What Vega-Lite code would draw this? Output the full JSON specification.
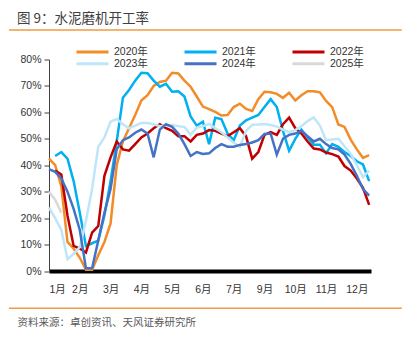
{
  "$schema": "https://vega.github.io/schema/vega-lite/v6.json",
  "width": 322,
  "height": 211.5,
  "autosize": {"type": "none"},
  "padding": {"left": 49, "top": 59.5, "right": 38, "bottom": 72},
  "background": "white",
  "config": {
    "font": "Liberation Sans, Noto Sans CJK SC",
    "view": {"stroke": null}
  },
  "title": {"text": "图 9：水泥磨机开工率", "anchor": "start", "frame": "group", "dx": -32, "offset": 4, "fontSize": 13.5, "fontWeight": "normal", "color": "#404040", "font": "Noto Sans CJK SC"},
  "data": {"values": [
    {"w": 2, "2020年": 40, "2021年": 43.5, "2022年": 38, "2023年": 20, "2024年": 37.5, "2025年": 27},
    {"w": 1, "2020年": 42.5, "2021年": null, "2022年": null, "2023年": 24, "2024年": 38.5, "2025年": 30},
    {"w": 3, "2020年": 32, "2021年": 45, "2022年": 36.5, "2023年": 15.5, "2024年": 35, "2025年": 22},
    {"w": 4, "2020年": 11, "2021年": 42.5, "2022年": 21, "2023年": 4.5, "2024年": 30},
    {"w": 5, "2020年": 8.5, "2021年": 34, "2022年": 9.5, "2023年": 6.5, "2024年": 23.5},
    {"w": 6, "2020年": 5, "2021年": 22, "2022年": 8.5, "2023年": 9, "2024年": 15.5},
    {"w": 7, "2020年": 0.5, "2021年": 9.5, "2022年": 7, "2023年": 19, "2024年": 1},
    {"w": 8, "2020年": 0.5, "2021年": 10.5, "2022年": 14.5, "2023年": 31, "2024年": 1},
    {"w": 9, "2020年": 6, "2021年": 11.5, "2022年": 17, "2023年": 47, "2024年": 11.5},
    {"w": 10, "2020年": 11, "2021年": 21, "2022年": 36, "2023年": 50.5, "2024年": 22},
    {"w": 11, "2020年": 18, "2021年": 34, "2022年": 43, "2023年": 56.5, "2024年": 31},
    {"w": 12, "2020年": 40, "2021年": 49, "2022年": 49, "2023年": 57.5, "2024年": 46},
    {"w": 13, "2020年": 49, "2021年": 65.5, "2022年": 46, "2023年": 55.5, "2024年": 49.5},
    {"w": 14, "2020年": 54, "2021年": 68.5, "2022年": 45.5, "2023年": 54, "2024年": 50.5},
    {"w": 15, "2020年": 59, "2021年": 72, "2022年": 48, "2023年": 55, "2024年": 52.3},
    {"w": 16, "2020年": 64.5, "2021年": 75, "2022年": 50.5, "2023年": 56, "2024年": 53.5},
    {"w": 17, "2020年": 66.5, "2021年": 74.8, "2022年": 52, "2023年": 56, "2024年": 52},
    {"w": 18, "2020年": 70, "2021年": 72, "2022年": 54, "2023年": 55.5, "2024年": 43},
    {"w": 19, "2020年": 71.5, "2021年": 69.7, "2022年": 55.5, "2023年": 54.8, "2024年": 53.5},
    {"w": 20, "2020年": 72, "2021年": 70.8, "2022年": 54, "2023年": 55, "2024年": 55.5},
    {"w": 21, "2020年": 75, "2021年": 67.8, "2022年": 53, "2023年": 55.2, "2024年": 54.5},
    {"w": 22, "2020年": 74.7, "2021年": 68, "2022年": 51, "2023年": 54.8, "2024年": 52},
    {"w": 23, "2020年": 72, "2021年": 66, "2022年": 51, "2023年": 54.5, "2024年": 48},
    {"w": 24, "2020年": 69.7, "2021年": 58.5, "2022年": 49, "2023年": 51.5, "2024年": 43.5},
    {"w": 25, "2020年": 66, "2021年": 55, "2022年": 51.5, "2023年": 54.2, "2024年": 45},
    {"w": 26, "2020年": 62.2, "2021年": 56.5, "2022年": 52, "2023年": 54.8, "2024年": 44.3},
    {"w": 27, "2020年": 61.2, "2021年": 48, "2022年": 53.3, "2023年": 55.6, "2024年": 44.5},
    {"w": 28, "2020年": 60.2, "2021年": 58, "2022年": 53, "2023年": 54, "2024年": 46.5},
    {"w": 29, "2020年": 58.8, "2021年": 57.5, "2022年": 52, "2023年": 52.5, "2024年": 48},
    {"w": 30, "2020年": 59, "2021年": 52, "2022年": 51, "2023年": 50.5, "2024年": 47},
    {"w": 31, "2020年": 62, "2021年": 49.5, "2022年": 52.5, "2023年": 48.5, "2024年": 47},
    {"w": 32, "2020年": 63.3, "2021年": 55, "2022年": 54, "2023年": 47, "2024年": 47.7},
    {"w": 33, "2020年": 61.3, "2021年": 57, "2022年": 51, "2023年": 53, "2024年": 48},
    {"w": 34, "2020年": 60.5, "2021年": 58, "2022年": 42.5, "2023年": 55.3, "2024年": 48.6},
    {"w": 35, "2020年": 65, "2021年": 59, "2022年": 45, "2023年": 55.4, "2024年": 49.5},
    {"w": 36, "2020年": 67.8, "2021年": 62, "2022年": 51.5, "2023年": 55.6, "2024年": 51.8},
    {"w": 37, "2020年": 67.6, "2021年": 65, "2022年": 52.5, "2023年": 55.2, "2024年": 52},
    {"w": 38, "2020年": 67, "2021年": 62, "2022年": 51.5, "2023年": 54.6, "2024年": 44},
    {"w": 39, "2020年": 65.5, "2021年": 53, "2022年": 55.5, "2023年": 53.5, "2024年": 50},
    {"w": 40, "2020年": 67.4, "2021年": 45.5, "2022年": 58, "2023年": 52.5, "2024年": 51.5},
    {"w": 41, "2020年": 64.5, "2021年": 50, "2022年": 54, "2023年": 53.3, "2024年": 52},
    {"w": 42, "2020年": 66.5, "2021年": 53.5, "2022年": 52, "2023年": 54.8, "2024年": 53},
    {"w": 43, "2020年": 68, "2021年": 50.5, "2022年": 49, "2023年": 56.7, "2024年": 51},
    {"w": 44, "2020年": 68, "2021年": 47.8, "2022年": 46.3, "2023年": 58.1, "2024年": 49},
    {"w": 45, "2020年": 67.6, "2021年": 47.8, "2022年": 46, "2023年": 55, "2024年": 50},
    {"w": 46, "2020年": 64.3, "2021年": 44.5, "2022年": 44.8, "2023年": 49.5, "2024年": 48},
    {"w": 47, "2020年": 62, "2021年": 48, "2022年": 44.2, "2023年": 49.7, "2024年": 46.5},
    {"w": 48, "2020年": 55.4, "2021年": 47, "2022年": 43.3, "2023年": 50, "2024年": 46},
    {"w": 49, "2020年": 54.5, "2021年": 45, "2022年": 39.7, "2023年": 47.2, "2024年": 44},
    {"w": 50, "2020年": 49.7, "2021年": 43.5, "2022年": 38, "2023年": 44.3, "2024年": 40.5},
    {"w": 51, "2020年": 46, "2021年": 41.5, "2022年": 35, "2023年": 40, "2024年": 36},
    {"w": 52, "2020年": 42.8, "2021年": 40.3, "2022年": 31.5, "2023年": 35.5, "2024年": 31},
    {"w": 53, "2020年": 43.8, "2021年": 34, "2022年": 25, "2023年": 38, "2024年": 28.5}
  ]},
  "transform": [
    {"fold": ["2020年", "2021年", "2022年", "2023年", "2024年", "2025年"], "as": ["year", "v"]},
    {"filter": "isValid(datum.v)"}
  ],
  "layer": [
    {
      "mark": {"type": "line", "strokeWidth": 2.5},
      "encoding": {
        "x": {
          "field": "w", "type": "quantitative",
          "scale": {"domain": [1, 53.3], "nice": false, "zero": false},
          "axis": {
            "values": [1, 6, 11, 16, 21, 26, 31, 36, 41, 46, 51],
            "tickCount": 60,
            "labelExpr": "['1月','2月','3月','4月','5月','6月','7月','9月','10月','11月','12月'][(datum.value-1)/5]",
            "labelOverlap": false,
            "ticks": false, "grid": false,
            "domainColor": "#000000", "domainWidth": 4,
            "labelPadding": 13, "labelFontSize": 10.5, "labelColor": "#333333",
            "title": "资料来源：卓创资讯、天风证券研究所",
            "titleX": -32, "titleY": 51, "titleAlign": "left", "titleAnchor": "start", "titleBaseline": "middle",
            "titleFontSize": 10.5, "titleFontWeight": "normal", "titleColor": "#595959"
          }
        },
        "y": {
          "field": "v", "type": "quantitative",
          "scale": {"domain": [0, 80], "nice": false},
          "axis": {
            "values": [0, 10, 20, 30, 40, 50, 60, 70, 80],
            "tickCount": 60,
            "labelExpr": "datum.value + '%'",
            "labelOverlap": false,
            "grid": false, "tickSize": 5, "tickColor": "#404040", "domainColor": "#404040",
            "labelPadding": 3, "labelFontSize": 10.5, "labelColor": "#333333", "title": null
          }
        },
        "color": {
          "field": "year", "type": "nominal",
          "scale": {
            "domain": ["2020年", "2021年", "2022年", "2023年", "2024年", "2025年"],
            "range": ["#F28C28", "#00B0F0", "#C00000", "#BFE6F8", "#4472C4", "#D9D9D9"]
          },
          "legend": {
            "title": null, "orient": "none", "legendX": 26, "legendY": -13.6,
            "direction": "horizontal", "columns": 3,
            "symbolType": "stroke", "symbolSize": 1024, "symbolStrokeWidth": 3,
            "clipHeight": 11.6,
            "labelFontSize": 10.5, "labelColor": "#333333", "labelOffset": 4,
            "columnPadding": 35, "rowPadding": 0, "padding": 0
          }
        }
      }
    },
    {
      "data": {"values": [{}]},
      "mark": {"type": "rule", "color": "#F29A3F", "strokeWidth": 1.5, "clip": false},
      "encoding": {"x": {"datum": -5.5}, "x2": {"datum": 58.3}, "y": {"datum": 91.2}}
    },
    {
      "data": {"values": [{}]},
      "mark": {"type": "rule", "color": "#F29A3F", "strokeWidth": 1.5, "clip": false},
      "encoding": {"x": {"datum": -5.5}, "x2": {"datum": 58.3}, "y": {"datum": -14.1}}
    }
  ]
}
